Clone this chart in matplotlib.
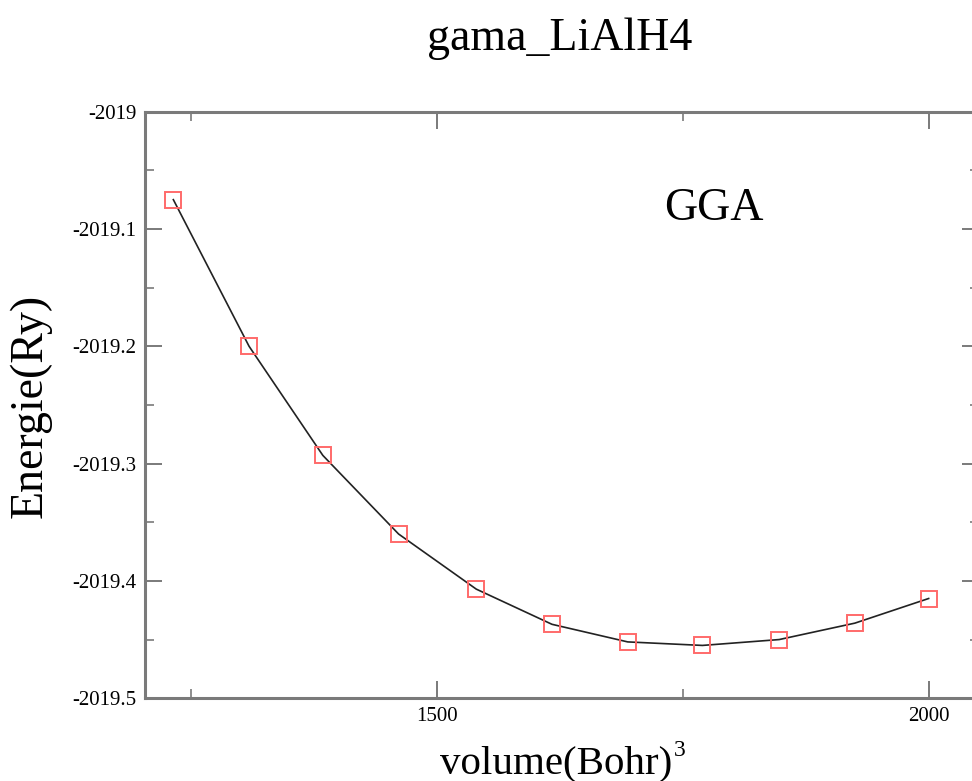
import numpy as np
import matplotlib
matplotlib.use("Agg")
import matplotlib.pyplot as plt
from matplotlib.ticker import MultipleLocator

# data
volume = [1232, 1309, 1384, 1461, 1540, 1617, 1694, 1770, 1848, 1925, 2000]
energy = [-2019.075, -2019.200, -2019.293, -2019.360, -2019.407, -2019.437,
          -2019.452, -2019.455, -2019.450, -2019.436, -2019.415]

plt.rcParams['font.family'] = ['Liberation Serif', 'DejaVu Serif']

fig = plt.figure(figsize=(9.72, 7.81), dpi=100)
# the right spine sits just outside the picture, like in the original
ax = fig.add_axes([0.149, 0.106, 0.858, 0.751])

ax.plot(volume, energy, color='#222222', lw=1.2, zorder=2)
ax.plot(volume, energy, ls='none', marker='s', ms=11.5, mfc='none',
        mec='#ff6a6a', mew=1.4, zorder=3)

ax.set_xlim(1203, 2051)
ax.set_ylim(-2019.5, -2019.0)
ax.xaxis.set_major_locator(MultipleLocator(500))
ax.xaxis.set_minor_locator(MultipleLocator(250))
ax.yaxis.set_major_locator(MultipleLocator(0.1))
ax.yaxis.set_minor_locator(MultipleLocator(0.05))
ax.yaxis.set_major_formatter(plt.FuncFormatter(lambda v, p: f"{v:g}"))

for s in ax.spines.values():
    s.set_linewidth(2.2)
    s.set_color('#7a7a7a')
ax.tick_params(which='both', direction='in', top=True, right=True,
               color='#7a7a7a', labelsize=15)
ax.tick_params(which='major', length=12, width=1.4, pad=6)
ax.tick_params(which='minor', length=6.5, width=1.2)

# labels placed in figure pixels to follow the original layout
W, H = 972, 781
fig.text(440 / W, 1 - 773 / H, 'volume(Bohr)', fontsize=29.5,
         ha='left', va='baseline')
fig.text(674 / W, 1 - 756 / H, '3', fontsize=17, ha='left', va='baseline')
fig.text(30 / W, 1 - 406 / H, 'Energie(Ry)', fontsize=33, rotation=90,
         ha='center', va='center')
fig.text(560 / W, 1 - 50 / H, 'gama_LiAlH4', fontsize=33,
         ha='center', va='baseline')
fig.text(714 / W, 1 - 220 / H, 'GGA', fontsize=33,
         ha='center', va='baseline')

fig.savefig('out.png', dpi=100)
